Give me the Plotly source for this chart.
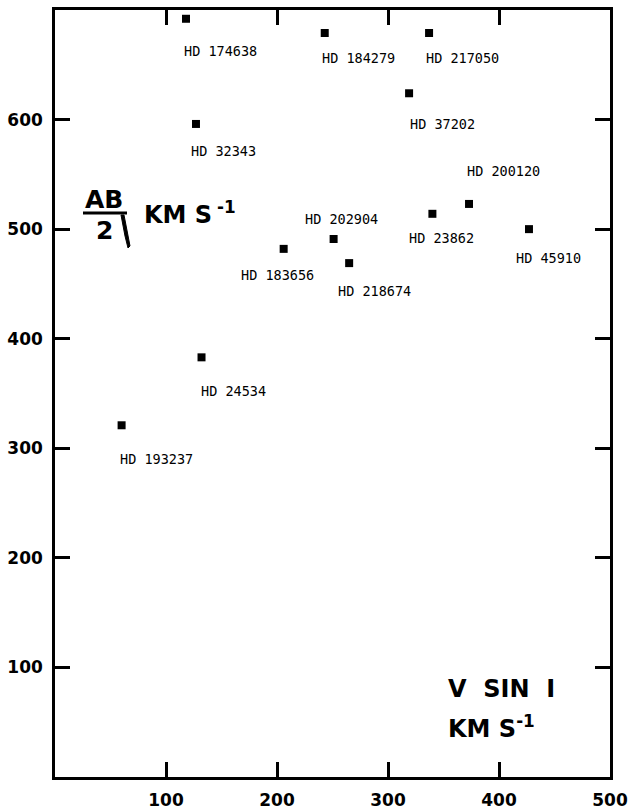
import plotly.graph_objects as go

# Stars: projected rotational velocity (v sin i) against AB/2, both in km/s
stars = ["HD 174638", "HD 184279", "HD 217050", "HD 37202", "HD 32343",
         "HD 200120", "HD 23862", "HD 45910", "HD 202904", "HD 183656",
         "HD 218674", "HD 24534", "HD 193237"]
vsini = [118, 243, 337, 319, 127, 373, 340, 427, 251, 206, 265, 132, 60]
ab_half = [692, 679, 679, 624, 596, 523, 514, 500, 491, 482, 469, 383, 321]

x_ticks = [100, 200, 300, 400, 500]
y_ticks = [100, 200, 300, 400, 500, 600]

# label placement relative to each marker, in pixels (dx, dy with +dy downwards)
label_offsets = {
    "HD 174638": (-4, 32), "HD 184279": (-5, 25), "HD 217050": (-5, 25),
    "HD 37202": (-1, 31), "HD 32343": (-7, 27), "HD 200120": (-4, -33),
    "HD 23862": (-25, 24), "HD 45910": (-15, 29), "HD 202904": (-31, -20),
    "HD 183656": (-45, 26), "HD 218674": (-13, 28), "HD 24534": (-3, 34),
    "HD 193237": (-4, 34),
}

W, H = 633, 811
L, R, T, B = 55, 610, 10, 777
BOLD = "DejaVu Sans"
MONO = "DejaVu Sans Mono"


def px(x):
    return (x - L) / (R - L)


def py(y):
    return (B - y) / (B - T)


fig = go.Figure()
fig.add_trace(go.Scatter(
    x=vsini, y=ab_half, mode="markers",
    marker=dict(symbol="square", size=8, color="black"),
    hoverinfo="text", text=stars, showlegend=False,
))

annotations = []
for name, xv, yv in zip(stars, vsini, ab_half):
    dx, dy = label_offsets[name]
    annotations.append(dict(
        x=xv, y=yv, xref="x", yref="y", text=name, showarrow=False,
        xanchor="left", yanchor="middle", xshift=dx, yshift=-dy,
        font=dict(family=MONO, size=13.5, color="black"),
    ))

# y-axis title: (AB / 2) KM S^-1 written inside the frame
annotations += [
    dict(x=px(104), y=py(199), xref="paper", yref="paper", text="<b>AB</b>",
         showarrow=False, xanchor="center", yanchor="middle",
         font=dict(family=BOLD, size=25, color="black")),
    dict(x=px(104), y=py(230), xref="paper", yref="paper", text="<b>2</b>",
         showarrow=False, xanchor="center", yanchor="middle",
         font=dict(family=BOLD, size=25, color="black")),
    dict(x=px(142), y=py(213), xref="paper", yref="paper",
         text="<b>KM S\u2009<sup>-1</sup></b>",
         showarrow=False, xanchor="left", yanchor="middle",
         font=dict(family=BOLD, size=24, color="black")),
    # x-axis title in the lower right corner
    dict(x=px(446), y=py(689), xref="paper", yref="paper",
         text="<b>V\u00a0\u00a0SIN\u00a0\u00a0I</b>",
         showarrow=False, xanchor="left", yanchor="middle",
         font=dict(family=BOLD, size=24, color="black")),
    dict(x=px(446), y=py(727), xref="paper", yref="paper",
         text="<b>KM S<sup>-1</sup></b>",
         showarrow=False, xanchor="left", yanchor="middle",
         font=dict(family=BOLD, size=24, color="black")),
]

shapes = [
    # fraction bar under AB
    dict(type="line", xref="paper", yref="paper",
         x0=px(83), x1=px(127), y0=py(213), y1=py(213),
         line=dict(color="black", width=3)),
    # slanted stroke after the 2
    dict(type="path", xref="paper", yref="paper",
         path=(f"M {px(121)} {py(215)} L {px(124)} {py(215)} "
               f"L {px(130)} {py(246)} L {px(128)} {py(248)} "
               f"L {px(125)} {py(236)} Z"),
         fillcolor="black", line=dict(color="black", width=1)),
]

axis_common = dict(
    showgrid=False, zeroline=False, showline=True, linecolor="black",
    linewidth=2.5, mirror="ticks", ticks="inside", ticklen=15, tickwidth=2.5,
    tickcolor="black", automargin=False,
    tickfont=dict(family=BOLD, size=17, color="black", weight="bold"),
)

fig.update_xaxes(range=[0, 500], tickvals=x_ticks, ticklabelstandoff=6,
                 **axis_common)
fig.update_yaxes(range=[0, 700], tickvals=y_ticks, ticklabelstandoff=6,
                 **axis_common)

fig.update_layout(
    width=W, height=H, autosize=False,
    margin=dict(l=L, r=W - R, t=T, b=H - B, pad=0),
    paper_bgcolor="white", plot_bgcolor="white",
    annotations=annotations, shapes=shapes,
)

fig.write_html("out.html")
